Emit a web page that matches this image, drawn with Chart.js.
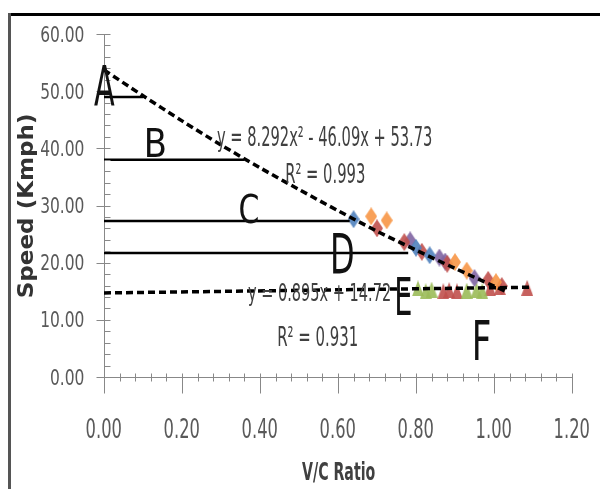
<!DOCTYPE html>
<html><head><meta charset="utf-8">
<script src="https://cdn.jsdelivr.net/npm/chart.js@4"></script>
<style>html,body{margin:0;padding:0;background:#fff;}#wrap{position:relative;width:600px;height:489px;}</style>
</head><body><div id="wrap"><canvas id="c"></canvas></div>
<script>
// ---- tick values ----
const xTicks = [0, 0.2, 0.4, 0.6, 0.8, 1.0, 1.2];
const yTicks = [0, 10, 20, 30, 40, 50, 60];

// ---- observed points (V/C ratio, speed) ----
const blueDiamonds   = [[0.64,27.6],[0.80,22.6],[0.835,21.3]];
const orangeDiamonds = [[0.685,28.1],[0.725,27.4],[0.90,20.1],[0.93,18.6],[1.005,16.6]];
const redDiamonds    = [[0.70,26.0],[0.77,23.6],[0.815,21.9],[0.88,19.8],[0.985,17.0],[1.02,15.9]];
const purpleDiamonds = [[0.785,23.9],[0.86,20.9],[0.875,20.2],[0.95,17.3]];
const greenTriangles = [[0.805,15.5],[0.825,15.0],[0.84,15.3],[0.93,15.1],[0.955,15.2],[0.97,15.0]];
const redTriangles   = [[0.87,15.0],[0.885,15.2],[0.905,15.0],[0.99,15.5],[1.015,15.7],[1.085,15.6]];

// ---- trendlines ----
const quadX = [0, 0.1, 0.2, 0.3, 0.4, 0.5, 0.6, 0.7, 0.8, 0.9, 1.0, 1.03];
const quadY = [53.7, 49.2, 44.8, 40.6, 36.6, 32.8, 29.1, 25.5, 22.2, 19.0, 15.9, 15.0];
const linX  = [0, 1.09];
const linY  = [14.7, 15.7];

// ---- level of service boundaries ----
const levelY    = [49, 38, 27.3, 21.7];
const levelEndX = [0.10, 0.36, 0.63, 0.78];

const toXY = arr => arr.map(p => ({x: p[0], y: p[1]}));

function markerCanvas(shape, color, w, h) {
  const c = document.createElement('canvas');
  c.width = w; c.height = h;
  const g = c.getContext('2d');
  g.fillStyle = color;
  g.beginPath();
  if (shape === 'diamond') {
    g.moveTo(w/2, 0); g.lineTo(w, h/2); g.lineTo(w/2, h); g.lineTo(0, h/2);
  } else {
    g.moveTo(w/2, 0); g.lineTo(w, h); g.lineTo(0, h);
  }
  g.closePath(); g.fill();
  return c;
}
const cBlue = 'rgba(79,129,189,0.9)', cOrange = 'rgba(247,150,70,0.9)', cRed = 'rgba(192,80,77,0.9)',
      cPurple = 'rgba(128,100,162,0.9)', cGreen = 'rgba(155,187,89,0.9)';

function scatterSet(label, arr, shape, color) {
  const img = shape === 'diamond' ? markerCanvas('diamond', color, 12, 18) : markerCanvas('triangle', color, 12, 16);
  return {type: 'scatter', label, data: toXY(arr), pointStyle: img, pointRadius: 7,
          backgroundColor: color, borderColor: color, showLine: false};
}

const datasets = [
  {type: 'line', label: 'Poly. trend', data: quadX.map((x, i) => ({x, y: quadY[i]})),
   borderColor: '#000', borderWidth: 3.5, borderDash: [7, 4], pointRadius: 0, tension: 0.3, fill: false},
  {type: 'line', label: 'Linear trend', data: linX.map((x, i) => ({x, y: linY[i]})),
   borderColor: '#000', borderWidth: 3.5, borderDash: [7, 4], pointRadius: 0, fill: false}
];
levelY.forEach((y, i) => datasets.push({type: 'line', label: 'LOS ' + i,
  data: [{x: 0, y}, {x: levelEndX[i], y}], borderColor: '#000', borderWidth: 2.5, pointRadius: 0, fill: false}));
datasets.push(
  scatterSet('S1', blueDiamonds, 'diamond', cBlue),
  scatterSet('S2', orangeDiamonds, 'diamond', cOrange),
  scatterSet('S3', redDiamonds, 'diamond', cRed),
  scatterSet('S4', purpleDiamonds, 'diamond', cPurple),
  scatterSet('S5', greenTriangles, 'triangle', cGreen),
  scatterSet('S6', redTriangles, 'triangle', cRed)
);

function fitText(ctx, text, font, x0, baseY, width, capH, color, rot, refChar) {
  ctx.save();
  ctx.font = font;
  const m = ctx.measureText(text);
  const cap = ctx.measureText(refChar || 'H').actualBoundingBoxAscent;
  const inkW = m.actualBoundingBoxLeft + m.actualBoundingBoxRight;
  ctx.translate(x0, baseY);
  if (rot) ctx.rotate(rot);
  ctx.scale(width / inkW, capH / cap);
  ctx.textAlign = 'left'; ctx.textBaseline = 'alphabetic';
  ctx.fillStyle = color;
  ctx.fillText(text, m.actualBoundingBoxLeft, 0);
  ctx.restore();
}
// draw tick label with fixed scale, anchored by ink box
function tickText(ctx, text, font, sx, sy, anchorX, align, centerY, color) {
  ctx.save();
  ctx.font = font;
  const m = ctx.measureText(text);
  const cap = ctx.measureText('0').actualBoundingBoxAscent;
  const inkW = (m.actualBoundingBoxLeft + m.actualBoundingBoxRight) * sx;
  const left = align === 'right' ? anchorX - inkW : anchorX - inkW / 2;
  ctx.translate(left, centerY + cap * sy / 2);
  ctx.scale(sx, sy);
  ctx.textAlign = 'left'; ctx.textBaseline = 'alphabetic'; ctx.fillStyle = color;
  ctx.fillText(text, m.actualBoundingBoxLeft, 0);
  ctx.restore();
}

const NARROW = '"Liberation Sans Narrow","DejaVu Sans Condensed",sans-serif';
const TICKFONT = '20px "DejaVu Sans Condensed","DejaVu Sans",sans-serif';
// [text, left, right, capTop, baseline]
const letterBoxes = [
  ['A', 94, 115, 65, 105], ['B', 147, 165, 128, 157], ['C', 240, 258, 195, 223],
  ['D', 333, 353, 233, 273], ['E', 397, 411, 277, 315], ['F', 475, 490, 320, 360]
];
const eqBoxes = [
  ['y = 8.292x² - 46.09x + 53.73', 217, 432, 128, 146],
  ['R² = 0.993', 286, 365, 165, 183],
  ['y = 0.895x + 14.72', 248, 390, 284, 301],
  ['R² = 0.931', 278, 357, 328, 346]
];

const overlay = {
  id: 'overlay',
  beforeDraw(chart) {
    const ctx = chart.ctx;
    ctx.save(); ctx.fillStyle = '#fff'; ctx.fillRect(0, 0, chart.width, chart.height); ctx.restore();
  },
  afterDraw(chart) {
    const ctx = chart.ctx, xs = chart.scales.x, ys = chart.scales.y;
    ctx.save();
    // frame
    ctx.fillStyle = '#000'; ctx.fillRect(8, 13, 592, 3);
    ctx.fillStyle = '#555'; ctx.fillRect(8, 13, 3, 476);
    // tick marks
    ctx.strokeStyle = '#888'; ctx.lineWidth = 1;
    const ax = Math.round(xs.left) + 0.5, ay = Math.round(ys.bottom) + 0.5;
    ctx.beginPath();
    for (let v = 0; v <= 60; v += 2) {
      const py = Math.round(ys.getPixelForValue(v)) + 0.5;
      if (v % 10 === 0) { ctx.moveTo(ax - 8, py); ctx.lineTo(ax + 6, py); }
      else { ctx.moveTo(ax, py); ctx.lineTo(ax + 6, py); }
    }
    for (let k = 0; k <= 30; k++) {
      const px = Math.round(xs.getPixelForValue(k * 0.04)) + 0.5;
      if (k % 5 === 0) { ctx.moveTo(px, ay - 4); ctx.lineTo(px, ay + 16); }
      else { ctx.moveTo(px, ay - 4); ctx.lineTo(px, ay + 4); }
    }
    ctx.stroke();
    // tick labels
    ctx.font = TICKFONT;
    const w60 = ctx.measureText('60.00'), w0 = ctx.measureText('0.00');
    const capT = ctx.measureText('0').actualBoundingBoxAscent;
    const syY = 15 / capT, sxY = 43 / (w60.actualBoundingBoxLeft + w60.actualBoundingBoxRight);
    const syX = 19 / capT, sxX = 35 / (w0.actualBoundingBoxLeft + w0.actualBoundingBoxRight);
    yTicks.forEach(v => tickText(ctx, v.toFixed(2), TICKFONT, sxY, syY, 84, 'right', ys.getPixelForValue(v), '#595959'));
    xTicks.forEach(v => tickText(ctx, v.toFixed(2), TICKFONT, sxX, syX, xs.getPixelForValue(v), 'center', 428, '#595959'));
    // letters
    letterBoxes.forEach(b => fitText(ctx, b[0], '48px ' + NARROW, b[1], b[4], b[2] - b[1], b[4] - b[3], '#111'));
    eqBoxes.forEach(b => fitText(ctx, b[0], '20px ' + NARROW, b[1], b[4], b[2] - b[1], b[4] - b[3], '#404040', 0, '0'));
    // axis titles
    fitText(ctx, 'Speed (Kmph)', 'bold 18px "DejaVu Sans",sans-serif', 33, 297, 182, 15, '#333', -Math.PI / 2);
    fitText(ctx, 'V/C Ratio', 'bold 20px ' + NARROW, 302, 480, 73, 17, '#404040');
    ctx.restore();
  }
};

new Chart(document.getElementById('c'), {
  data: {datasets},
  options: {
    responsive: true, maintainAspectRatio: false, animation: false,
    layout: {padding: {left: 0, right: 28, top: 34, bottom: 0}},
    plugins: {legend: {display: false}, tooltip: {enabled: false}},
    scales: {
      x: {type: 'linear', min: 0, max: 1.2,
          afterFit: s => { s.height = 112; },
          afterBuildTicks: s => { s.ticks = xTicks.map(v => ({value: v})); },
          grid: {display: false, drawTicks: false},
          border: {display: true, color: '#888', width: 1},
          ticks: {display: false}},
      y: {type: 'linear', min: 0, max: 60,
          afterFit: s => { s.width = 104; },
          afterBuildTicks: s => { s.ticks = yTicks.map(v => ({value: v})); },
          grid: {display: false, drawTicks: false},
          border: {display: true, color: '#888', width: 1},
          ticks: {display: false}}
    }
  },
  plugins: [overlay]
});
</script>
</body></html>
